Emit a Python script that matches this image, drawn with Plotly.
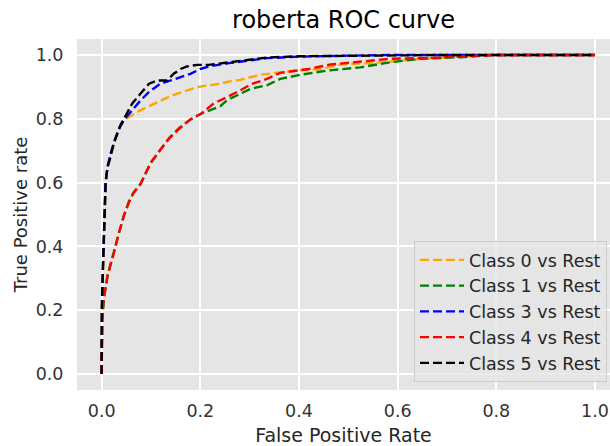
import plotly.graph_objects as go

# ---- data ----
class_names = ["Class 0 vs Rest", "Class 1 vs Rest", "Class 3 vs Rest", "Class 4 vs Rest", "Class 5 vs Rest"]
colors = ["orange", "green", "blue", "red", "black"]

fpr_c0 = [0, 0, 0.002, 0.004, 0.006, 0.008, 0.012, 0.018, 0.026, 0.034, 0.045, 0.055, 0.072, 0.092, 0.113,
          0.133, 0.153, 0.173, 0.194, 0.217, 0.241, 0.261, 0.281, 0.322, 0.362, 0.383, 0.403, 0.443, 0.484,
          0.55, 0.60, 0.65, 0.70, 0.75, 0.80, 1.0]
tpr_c0 = [0, 0.02, 0.28, 0.40, 0.50, 0.60, 0.65, 0.69, 0.73, 0.765, 0.796, 0.806, 0.821, 0.837, 0.853,
          0.866, 0.879, 0.889, 0.899, 0.905, 0.910, 0.918, 0.922, 0.938, 0.946, 0.951, 0.953, 0.955, 0.970,
          0.975, 0.982, 0.988, 0.993, 0.998, 1.0, 1.0]

fpr_c1 = [0, 0, 0.001, 0.005, 0.012, 0.025, 0.035, 0.045, 0.055, 0.065, 0.079, 0.100, 0.119, 0.138, 0.158,
          0.180, 0.200, 0.227, 0.241, 0.254, 0.281, 0.302, 0.335, 0.362, 0.403, 0.457, 0.524, 0.585, 0.646,
          0.727, 0.794, 1.0]
tpr_c1 = [0, 0.08, 0.17, 0.24, 0.31, 0.385, 0.445, 0.497, 0.540, 0.570, 0.597, 0.662, 0.703, 0.742, 0.772,
          0.798, 0.815, 0.832, 0.840, 0.858, 0.878, 0.894, 0.905, 0.925, 0.938, 0.951, 0.961, 0.977, 0.988,
          0.993, 1.0, 1.0]

fpr_c3 = [0, 0, 0.002, 0.004, 0.006, 0.008, 0.012, 0.018, 0.026, 0.034, 0.045, 0.062, 0.079, 0.096, 0.119,
          0.140, 0.160, 0.180, 0.200, 0.217, 0.261, 0.335, 0.403, 0.50, 0.585, 0.70, 0.80, 1.0]
tpr_c3 = [0, 0.03, 0.31, 0.40, 0.50, 0.60, 0.65, 0.69, 0.73, 0.765, 0.796, 0.827, 0.858, 0.884, 0.910,
          0.920, 0.930, 0.941, 0.956, 0.964, 0.975, 0.990, 0.995, 0.997, 1.0, 1.0, 1.0, 1.0]

fpr_c4 = [0, 0, 0.001, 0.005, 0.012, 0.025, 0.035, 0.045, 0.055, 0.065, 0.079, 0.089, 0.100, 0.119, 0.138,
          0.158, 0.180, 0.200, 0.227, 0.254, 0.281, 0.302, 0.335, 0.362, 0.416, 0.464, 0.524, 0.585, 0.672,
          0.740, 0.794, 1.0]
tpr_c4 = [0, 0.10, 0.184, 0.246, 0.308, 0.381, 0.443, 0.495, 0.537, 0.568, 0.595, 0.630, 0.664, 0.703, 0.740,
          0.770, 0.798, 0.814, 0.848, 0.868, 0.889, 0.908, 0.925, 0.944, 0.955, 0.970, 0.979, 0.988, 0.991,
          0.995, 1.0, 1.0]

fpr_c5 = [0, 0, 0.002, 0.004, 0.006, 0.008, 0.012, 0.018, 0.024, 0.030, 0.038, 0.049, 0.062, 0.079, 0.096,
          0.113, 0.133, 0.146, 0.160, 0.173, 0.194, 0.217, 0.241, 0.281, 0.335, 0.403, 0.50, 0.60, 0.70,
          0.80, 1.0]
tpr_c5 = [0, 0.20, 0.30, 0.40, 0.50, 0.60, 0.65, 0.68, 0.72, 0.748, 0.780, 0.811, 0.848, 0.879, 0.910,
          0.920, 0.920, 0.941, 0.956, 0.964, 0.969, 0.969, 0.974, 0.982, 0.992, 0.996, 0.998, 1.0, 1.0,
          1.0, 1.0]

x_ticks = [0.0, 0.2, 0.4, 0.6, 0.8, 1.0]
y_ticks = [0.0, 0.2, 0.4, 0.6, 0.8, 1.0]

series = [(fpr_c0, tpr_c0), (fpr_c1, tpr_c1), (fpr_c3, tpr_c3), (fpr_c4, tpr_c4), (fpr_c5, tpr_c5)]

FONT = "DejaVu Sans"

fig = go.Figure()
for (fx, ty), name, col in zip(series, class_names, colors):
    fig.add_trace(go.Scatter(
        x=fx, y=ty, mode="lines", name=name,
        line=dict(color=col, width=2.4, dash="9px,4px"),
    ))

fig.update_layout(
    width=610, height=446,
    margin=dict(l=77, r=0, t=39, b=56),
    paper_bgcolor="white",
    plot_bgcolor="#e5e5e5",
    font=dict(family=FONT, size=17, color="#262626"),
    title=dict(text="roberta ROC curve", x=0.5, xanchor="center", xref="paper",
               y=1 - 20 / 446, yanchor="middle", yref="container",
               font=dict(family=FONT, size=24, color="black")),
    showlegend=True,
    legend=dict(
        x=(607 - 77) / 533, y=(390 - 382) / 351, xanchor="right", yanchor="bottom",
        bgcolor="rgba(229,229,229,0.8)", bordercolor="#cccccc", borderwidth=1,
        font=dict(family=FONT, size=17.5, color="#262626"),
        itemwidth=44,
    ),
)

fig.update_xaxes(
    range=[-0.05, 1.0304], tickvals=x_ticks, ticktext=[f"{v:.1f}" for v in x_ticks],
    showgrid=True, gridcolor="white", gridwidth=1.5, zeroline=False, showline=False,
    ticks="outside", ticklen=5, tickcolor="rgba(0,0,0,0)", automargin=False,
    tickfont=dict(family=FONT, size=17.5, color="#333333"),
    title=dict(text="False Positive Rate", font=dict(family=FONT, size=19, color="#262626"), standoff=12),
)
fig.update_yaxes(
    range=[-0.05, 1.05], tickvals=y_ticks, ticktext=[f"{v:.1f}" for v in y_ticks],
    showgrid=True, gridcolor="white", gridwidth=1.5, zeroline=False, showline=False,
    ticks="outside", ticklen=9, tickcolor="rgba(0,0,0,0)", automargin=False,
    tickfont=dict(family=FONT, size=17.5, color="#333333"),
    title=dict(text="True Positive rate", font=dict(family=FONT, size=18, color="#262626"), standoff=3),
)

fig.write_html("out.html")
